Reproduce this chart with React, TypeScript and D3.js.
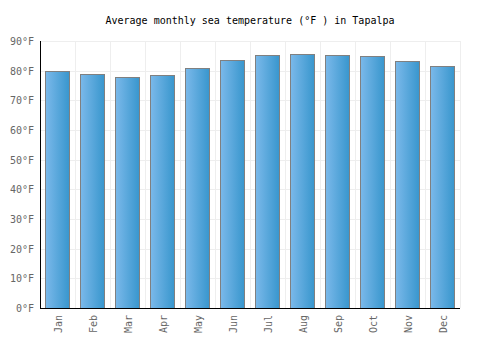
import React from "react";
import * as d3 from "d3";

const months = ["Jan","Feb","Mar","Apr","May","Jun","Jul","Aug","Sep","Oct","Nov","Dec"];
const temps = [80, 78.9, 77.8, 78.4, 80.8, 83.5, 85.2, 85.6, 85.2, 84.9, 83.2, 81.5];
const yTicks = [0,10,20,30,40,50,60,70,80,90];
const title = "Average monthly sea temperature (°F ) in Tapalpa";

export default function App() {
  const W = 500, H = 350;
  const left = 40, right = 460, top = 41, bottom = 308;
  const x = d3.scaleBand<string>().domain(months).range([left, right]).paddingInner(0.314).paddingOuter(0.157);
  const xc = d3.scaleBand<string>().domain(months).range([left, right]);
  const y = d3.scaleLinear().domain([0, 90]).range([bottom, top]);
  const font = "'DejaVu Sans Mono', monospace";
  return (
    <svg width={W} height={H} style={{ position: "absolute", left: 0, top: 0 }}>
      <defs>
        <linearGradient id="bg" x1="0" x2="1" y1="0" y2="0">
          <stop offset="0" stopColor="#7bb9ea" />
          <stop offset="1" stopColor="#3896cd" />
        </linearGradient>
      </defs>
      <rect width={W} height={H} fill="#fff" />
      <text x={250} y={24} textAnchor="middle" fontFamily={font} fontSize={10} fill="#000">{title}</text>
      {yTicks.map(t => (
        <line key={"h" + t} x1={left} x2={right} y1={Math.round(y(t)) + 0.5} y2={Math.round(y(t)) + 0.5} stroke="#eeeeee" />
      ))}
      {months.map((m, i) => (
        <line key={"v" + m} x1={Math.round(xc(m)! + xc.bandwidth()) + 0.5} x2={Math.round(xc(m)! + xc.bandwidth()) + 0.5} y1={top} y2={bottom} stroke="#eeeeee" />
      ))}
      {months.map((m, i) => (
        <rect key={"b" + m} x={Math.round(x(m)!) + 0.5} y={Math.round(y(temps[i])) + 0.5} width={Math.round(x.bandwidth())} height={Math.round(bottom - y(temps[i]))} fill="url(#bg)" stroke="#808080" strokeWidth={1} />
      ))}
      <line x1={left + 0.5} x2={left + 0.5} y1={top} y2={bottom + 1} stroke="#000" />
      <line x1={left} x2={right} y1={bottom + 0.5} y2={bottom + 0.5} stroke="#000" />
      {yTicks.map(t => (
        <text key={"yl" + t} x={34} y={y(t) + 4} textAnchor="end" fontFamily={font} fontSize={10} fill="#666">{t}°F</text>
      ))}
      {months.map(m => {
        const cx = xc(m)! + xc.bandwidth() / 2;
        return (
          <text key={"xl" + m} transform={`translate(${cx + 4},${315}) rotate(-90)`} textAnchor="end" fontFamily={font} fontSize={10} fill="#666">{m}</text>
        );
      })}
    </svg>
  );
}
